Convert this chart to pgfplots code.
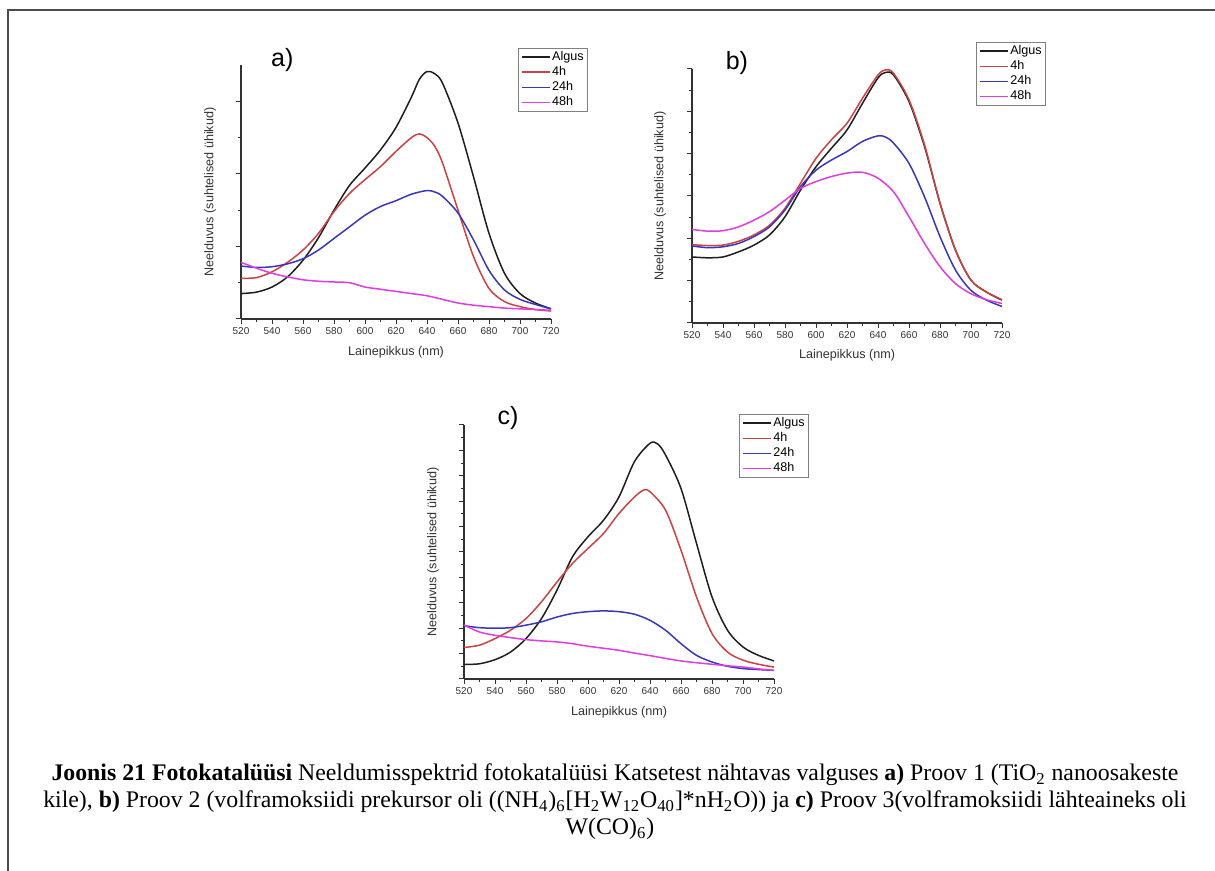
\documentclass[border=0pt]{standalone}
\usepackage{pgfplots}
\pgfplotsset{compat=1.18}
\usepackage{fontspec}
\setmainfont{Liberation Sans}
\newfontfamily\capfont{Liberation Serif}

\definecolor{cblack}{RGB}{30,30,30}
\definecolor{cred}{RGB}{205,65,65}
\definecolor{cblue}{RGB}{55,55,190}
\definecolor{cmag}{RGB}{225,60,225}
\definecolor{axgray}{RGB}{50,50,50}

\pgfplotsset{
  spec/.style={
    scale only axis, width=155pt, height=127pt,
    anchor=south west, clip=false,
    axis lines=left, axis line style={-, axgray, line width=0.6pt},
    xmin=520, xmax=720, xtick={520,540,...,720}, minor x tick num=1,
    ymin=0, yticklabels={}, minor y tick num=1,
    tick align=outside, major tick length=2.4pt, minor tick length=1.5pt,
    tick style={axgray, line width=0.5pt},
    /pgf/number format/assume math mode=true,
    x tick label style={font=\fontsize{5}{6}\selectfont, text=axgray, inner sep=1.5pt},
    xlabel={Lainepikkus (nm)},
    ylabel={Neelduvus (suhtelised ühikud)},
    label style={font=\fontsize{6.3}{7}\selectfont, text=axgray},
    legend style={draw=gray, line width=0.5pt, font=\fontsize{6.3}{7}\selectfont,
      inner xsep=1.5pt, inner ysep=0.7pt, row sep=0.3pt, anchor=north west,
      nodes={inner sep=0.6pt}},
    legend cell align=left,
    legend image code/.code={\draw[#1, line width=0.8pt] plot coordinates {(0pt,0pt) (14pt,0pt)};},
    every axis plot/.append style={smooth, line width=0.75pt, no markers},
  }
}

\begin{document}
\begin{tikzpicture}
\path[use as bounding box] (0,0) rectangle (607.5pt,435.5pt);
\draw[line width=1pt, color=black!70] (4pt,0pt) -- (4pt,430.5pt) -- (607.5pt,430.5pt);

% ---------- a)
\begin{axis}[spec, at={(120.5pt,276pt)}, ymax=3.5, ytick={0,1,2,3},
  xlabel style={at={(axis description cs:0.5,-0.13)}, anchor=center},
  ylabel style={at={(axis description cs:-0.1,0.5)}, anchor=center},
  legend style={at={(0.893,1.067)}}]
\addplot[cblack] coordinates {(520,0.35)(530,0.37)(540,0.44)(550,0.58)(560,0.81)(570,1.12)(580,1.50)(590,1.84)(600,2.08)(610,2.33)(620,2.64)(630,3.06)(635,3.30)(640,3.41)(645,3.38)(650,3.25)(660,2.70)(670,1.96)(680,1.18)(690,0.63)(700,0.35)(710,0.22)(720,0.14)};
\addplot[cred] coordinates {(520,0.56)(530,0.57)(540,0.65)(550,0.78)(560,0.95)(570,1.18)(580,1.48)(590,1.73)(600,1.92)(610,2.10)(620,2.31)(630,2.50)(635,2.55)(640,2.50)(645,2.38)(650,2.15)(660,1.50)(670,0.86)(680,0.42)(690,0.24)(700,0.17)(710,0.13)(720,0.11)};
\addplot[cblue] coordinates {(520,0.73)(530,0.71)(540,0.72)(550,0.76)(560,0.83)(570,0.95)(580,1.11)(590,1.27)(600,1.43)(610,1.55)(620,1.63)(630,1.72)(640,1.77)(645,1.75)(650,1.69)(660,1.46)(670,1.09)(680,0.67)(690,0.40)(700,0.27)(710,0.20)(720,0.14)};
\addplot[cmag] coordinates {(520,0.78)(530,0.70)(540,0.63)(550,0.58)(560,0.54)(570,0.52)(580,0.51)(590,0.50)(600,0.44)(610,0.41)(620,0.38)(630,0.35)(640,0.32)(650,0.27)(660,0.22)(670,0.19)(680,0.17)(690,0.15)(700,0.14)(710,0.13)(720,0.12)};
\legend{Algus,4h,24h,48h}
\node[font=\fontsize{12.5}{12.5}\selectfont] at (axis description cs:0.133,1.02) {a)};
\end{axis}

% ---------- b)
\begin{axis}[spec, at={(346pt,274pt)}, ymax=6, ytick={0,1,...,6},
  xlabel style={at={(axis description cs:0.5,-0.126)}, anchor=center},
  ylabel style={at={(axis description cs:-0.103,0.5)}, anchor=center},
  legend style={at={(0.916,1.106)}}]
\addplot[cblack] coordinates {(520,1.56)(530,1.54)(540,1.56)(550,1.68)(560,1.84)(570,2.08)(580,2.51)(590,3.14)(600,3.69)(610,4.13)(620,4.56)(630,5.19)(640,5.79)(645,5.92)(650,5.86)(660,5.23)(670,4.17)(680,2.83)(690,1.72)(700,1.01)(710,0.73)(720,0.54)};
\addplot[cred] coordinates {(520,1.85)(530,1.83)(540,1.84)(550,1.93)(560,2.08)(570,2.31)(580,2.71)(590,3.30)(600,3.89)(610,4.33)(620,4.72)(630,5.31)(640,5.86)(645,5.98)(650,5.90)(660,5.27)(670,4.21)(680,2.83)(690,1.72)(700,1.01)(710,0.73)(720,0.55)};
\addplot[cblue] coordinates {(520,1.82)(530,1.78)(540,1.80)(550,1.88)(560,2.04)(570,2.27)(580,2.67)(590,3.22)(600,3.61)(610,3.85)(620,4.05)(630,4.29)(640,4.42)(645,4.39)(650,4.25)(660,3.77)(670,2.98)(680,2.04)(690,1.25)(700,0.77)(710,0.54)(720,0.39)};
\addplot[cmag] coordinates {(520,2.21)(530,2.17)(540,2.18)(550,2.27)(560,2.43)(570,2.63)(580,2.90)(590,3.18)(600,3.34)(610,3.46)(620,3.54)(630,3.56)(640,3.42)(650,3.10)(660,2.51)(670,1.88)(680,1.33)(690,0.93)(700,0.69)(710,0.55)(720,0.46)};
\legend{Algus,4h,24h,48h}
\node[font=\fontsize{12.5}{12.5}\selectfont] at (axis description cs:0.145,1.024) {b)};
\end{axis}

% ---------- c)
\begin{axis}[spec, at={(232pt,96pt)}, ymax=10, ytick={0,1,...,10},
  xlabel style={at={(axis description cs:0.5,-0.13)}, anchor=center},
  ylabel style={at={(axis description cs:-0.1,0.5)}, anchor=center},
  legend style={at={(0.887,1.043)}}]
\addplot[cblack] coordinates {(520,0.57)(530,0.60)(540,0.76)(550,1.06)(560,1.59)(570,2.38)(580,3.50)(590,4.81)(600,5.60)(610,6.25)(620,7.17)(630,8.56)(640,9.28)(645,9.25)(650,8.82)(660,7.50)(670,5.34)(680,3.23)(690,1.92)(700,1.26)(710,0.93)(720,0.71)};
\addplot[cred] coordinates {(520,1.24)(530,1.33)(540,1.59)(550,1.92)(560,2.38)(570,3.04)(580,3.82)(590,4.55)(600,5.14)(610,5.73)(620,6.52)(630,7.17)(636,7.44)(640,7.37)(650,6.65)(660,5.07)(670,3.23)(680,1.79)(690,1.06)(700,0.74)(710,0.58)(720,0.47)};
\addplot[cblue] coordinates {(520,2.10)(530,2.02)(540,2.00)(550,2.02)(560,2.12)(570,2.25)(580,2.44)(590,2.58)(600,2.65)(610,2.68)(620,2.65)(630,2.55)(640,2.31)(650,1.92)(660,1.39)(670,0.93)(680,0.67)(690,0.50)(700,0.41)(710,0.37)(720,0.34)};
\addplot[cmag] coordinates {(520,2.12)(530,1.85)(540,1.72)(550,1.63)(560,1.55)(570,1.50)(580,1.46)(590,1.39)(600,1.29)(610,1.21)(620,1.13)(630,1.02)(640,0.92)(650,0.81)(660,0.71)(670,0.64)(680,0.58)(690,0.52)(700,0.47)(710,0.40)(720,0.34)};
\legend{Algus,4h,24h,48h}
\node[font=\fontsize{12.5}{12.5}\selectfont] at (axis description cs:0.142,1.028) {c)};
\end{axis}

% ---------- caption
\begin{scope}[every node/.style={font=\capfont\fontsize{11.9}{13.6}\selectfont, inner sep=0pt, anchor=base}]
\node at (307.5pt,45pt) {\textbf{Joonis 21 Fotokatalüüsi} Neeldumisspektrid fotokatalüüsi Katsetest nähtavas valguses \textbf{a)} Proov 1 (TiO\textsubscript{2} nanoosakeste};
\node at (307.5pt,31.5pt) {kile), \textbf{b)} Proov 2 (volframoksiidi prekursor oli ((NH\textsubscript{4})\textsubscript{6}[H\textsubscript{2}W\textsubscript{12}O\textsubscript{40}]*nH\textsubscript{2}O)) ja \textbf{c)} Proov 3(volframoksiidi lähteaineks oli};
\node at (305pt,18pt) {W(CO)\textsubscript{6})};
\end{scope}
\end{tikzpicture}
\end{document}
